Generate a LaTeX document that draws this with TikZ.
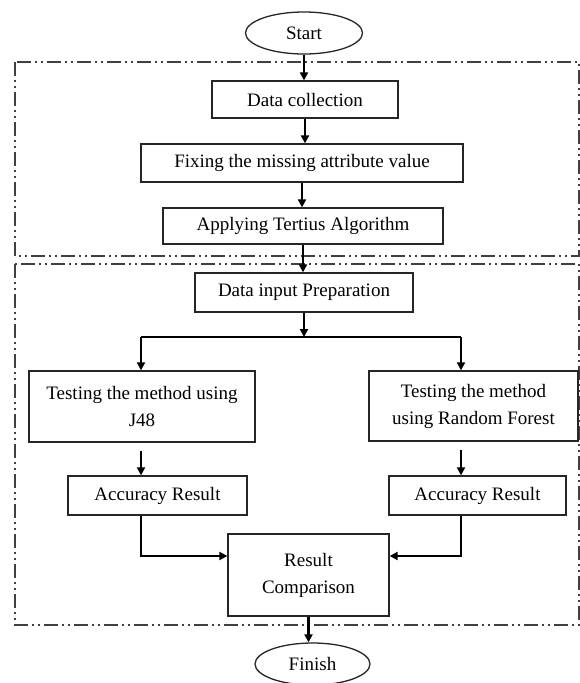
\documentclass[tikz,border=0pt]{standalone}
\usepackage{fontspec}
\setmainfont{Liberation Serif}
\usetikzlibrary{arrows.meta,shapes.geometric}
\begin{document}
\begin{tikzpicture}[x=1pt,y=-1pt,
  box/.style={draw=black!85, line width=1.3pt, rectangle, inner sep=0pt,
    font=\fontsize{19}{27}\selectfont, align=center},
  oval/.style={draw=black!85, line width=1.3pt, ellipse, inner sep=0pt,
    font=\fontsize{19}{27}\selectfont},
  arr/.style={line width=2.4pt, -{Triangle[length=8pt,width=8pt]}},
  ln/.style={line width=2.4pt},
  frame/.style={draw=black!75, line width=1.2pt,
    dash pattern=on 14pt off 4pt on 2pt off 4pt on 2pt off 4pt}]
\useasboundingbox (0,0) rectangle (580,683);
\draw[frame] (15,62) rectangle (579,256);
\draw[frame] (15,264) rectangle (579,625);
\node[oval, minimum width=117pt, minimum height=42pt] (start) at (304,33) {Start};
\node[box, minimum width=186pt, minimum height=37pt] (dc) at (305,99.5) {Data collection};
\node[box, minimum width=322pt, minimum height=38pt] (fix) at (302,163) {Fixing the missing attribute value};
\node[box, minimum width=280pt, minimum height=36pt] (app) at (303,226) {Applying Tertius Algorithm};
\node[box, minimum width=218pt, minimum height=39pt] (dip) at (304,292.5) {Data input Preparation};
\node[box, minimum width=226pt, minimum height=71pt] (j48) at (142,406.5) {Testing the method using\\J48};
\node[box, minimum width=209pt, minimum height=70pt] (rf) at (473.5,406) {Testing the method\\using Random Forest};
\node[box, minimum width=179pt, minimum height=39pt] (acc1) at (157.5,495.5) {Accuracy Result};
\node[box, minimum width=177pt, minimum height=39pt] (acc2) at (477.5,495.5) {Accuracy Result};
\node[box, minimum width=161pt, minimum height=82pt] (rc) at (308.5,575) {Result\\Comparison};
\node[oval, minimum width=115pt, minimum height=42pt] (fin) at (312.5,664) {Finish};
\coordinate (bm) at (303,337);
\coordinate (bl) at (141,337);
\coordinate (bR) at (461,337);
\draw[arr] (start.south) -- (start.south |- dc.north);
\draw[arr] (dc.south) -- (dc.south |- fix.north);
\draw[arr] (fix.south) -- (fix.south |- app.north);
\draw[arr] (app.south) -- (app.south |- dip.north);
\draw[arr] (dip.south) -- (dip.south |- bm);
\draw[ln] (bl) -- (bR);
\draw[arr] (bl) -- (bl |- j48.north);
\draw[arr] (bR) -- (bR |- rf.north);
\draw[arr, shorten <=8pt] (bl |- j48.south) -- (bl |- acc1.north);
\draw[arr, shorten <=8pt] (bR |- rf.south) -- (bR |- acc2.north);
\draw[arr] (bl |- acc1.south) |- ([yshift=19pt]rc.west);
\draw[arr] (bR |- acc2.south) |- ([yshift=19pt]rc.east);
\draw[arr] (rc.south) -- (rc.south |- fin.north);
\end{tikzpicture}
\end{document}
